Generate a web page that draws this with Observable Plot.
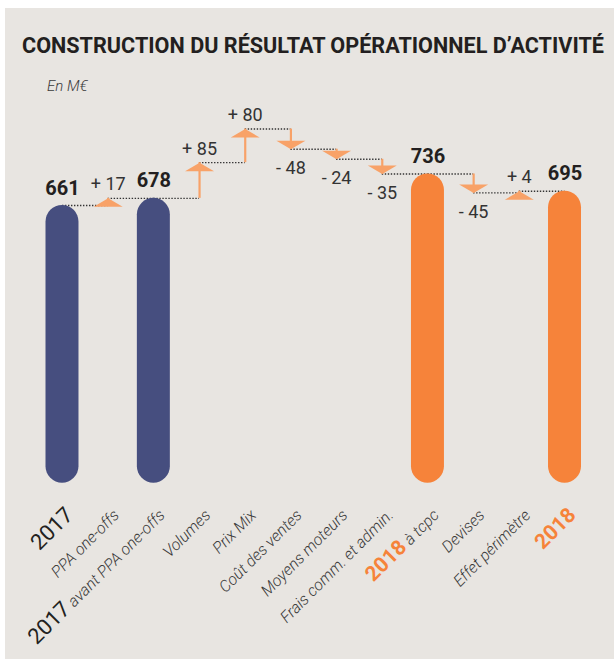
<!DOCTYPE html>
<html><head><meta charset="utf-8">
<script src="https://cdn.jsdelivr.net/npm/d3@7"></script>
<script src="https://cdn.jsdelivr.net/npm/@observablehq/plot@0.6"></script>
<style>
html,body{margin:0;padding:0;background:#fff;}
#panel{position:absolute;left:5px;top:8px;width:609px;height:651px;background:#e8e5e1;overflow:hidden;}
#head{position:relative;height:92px;}
#title{position:absolute;left:17px;top:26.5px;font-family:Roboto,sans-serif;font-weight:700;font-size:22px;line-height:22px;color:#231f20;white-space:nowrap;transform-origin:0 0;}
#sub{position:absolute;left:42px;top:71px;font-family:Roboto,sans-serif;font-style:italic;font-weight:300;font-size:15px;line-height:15px;color:#3a3a3a;}
#chart svg{display:block;overflow:visible;}
</style></head>
<body>
<div id="panel">
  <div id="head">
    <div id="title">CONSTRUCTION DU RÉSULTAT OPÉRATIONNEL D’ACTIVITÉ</div>
    <div id="sub">En M€</div>
  </div>
  <div id="chart"></div>
</div>
<script>
// ---- data ----
const categories = ["2017", "PPA one-offs", "2017 avant PPA one-offs", "Volumes", "Prix Mix",
  "Coût des ventes", "Moyens moteurs", "Frais comm. et admin.", "2018 à tcpc", "Devises",
  "Effet périmètre", "2018"];
const prefixes = ["2017", "", "2017", "", "", "", "", "", "2018", "", "", "2018"];
const kinds = ["total", "delta", "total", "delta", "delta", "delta", "delta", "delta", "total", "delta", "delta", "total"];
const values = [661, 17, 678, 85, 80, -48, -24, -35, 736, -45, 4, 695];

const navy = "#464e7f", orange = "#f6833a", arrowColor = "#f8a268", ink = "#231f20", grey = "#333333";

// title fit
const t = document.getElementById("title");
const tw = t.getBoundingClientRect().width;
t.style.transform = `scaleX(${582 / tw})`;

let level = 0;
const rows = categories.map((c, i) => {
  const v = values[i];
  let start, end;
  if (kinds[i] === "total") { start = 0; end = v; }
  else { start = level; end = level + v; }
  level = end;
  return {i, c, kind: kinds[i], v, start, end, pre: prefixes[i]};
});
const totals = rows.filter(d => d.kind === "total");
const deltas = rows.filter(d => d.kind === "delta");
const ups = deltas.filter(d => d.v > 0);
const downs = deltas.filter(d => d.v < 0);
const connectors = rows.slice(0, -1).map(d => ({x1: d.i, x2: d.i + 1, y: d.end}));

const headUp = {draw(ctx) { ctx.moveTo(0, 0); ctx.lineTo(14.5, 8.5); ctx.lineTo(-14.5, 8.5); ctx.closePath(); }};
const headDown = {draw(ctx) { ctx.moveTo(0, 0); ctx.lineTo(14.5, -8.5); ctx.lineTo(-14.5, -8.5); ctx.closePath(); }};

const fmt = v => v > 0 ? "+ " + v : "- " + (-v);

const svg = Plot.plot({
  width: 609, height: 559,
  marginLeft: 34.15, marginRight: 26.65, marginTop: 4.6, marginBottom: 176.3,
  x: {type: "linear", domain: [-0.5, 11.5], axis: null},
  y: {domain: [0, 900], axis: null},
  style: {background: "transparent", fontFamily: "Roboto, sans-serif", overflow: "visible"},
  marks: [
    Plot.ruleY(connectors, {y: "y", x1: "x1", x2: "x2", stroke: grey, strokeWidth: 1.4, strokeDasharray: "1.4 1.6"}),
    Plot.ruleX(deltas, {x: "i", y1: "start", y2: "end", stroke: arrowColor, strokeWidth: 2.2}),
    Plot.dot(ups, {x: "i", y: "end", symbol: headUp, r: 5, fill: arrowColor, stroke: "none"}),
    Plot.dot(downs, {x: "i", y: "end", symbol: headDown, r: 5, fill: arrowColor, stroke: "none"}),
    Plot.rectY(totals, {x1: d => d.i - 0.5, x2: d => d.i + 0.5, y1: 0, y2: "v", rx: 16.5,
      insetLeft: 6.35, insetRight: 6.35, fill: d => d.pre === "2018" ? orange : navy}),
    Plot.text(totals, {x: "i", y: "v", text: d => String(d.v), dy: -11, lineAnchor: "bottom",
      fontSize: 20, fontWeight: 700, fill: ink}),
    Plot.text(ups, {x: "i", y: "end", text: d => fmt(d.v), dy: -8, lineAnchor: "bottom",
      fontSize: 18, fill: grey}),
    Plot.text(downs, {x: "i", y: "end", text: d => fmt(d.v), dy: 25, lineAnchor: "bottom",
      fontSize: 18, fill: grey}),
    Plot.text(rows, {x: "i", y: 0, text: "c", rotate: -45, textAnchor: "end", lineAnchor: "bottom",
      dx: 12, dy: 33, fontSize: 16, fontStyle: "italic", fontWeight: 300, fill: "#3a3a3a"})
  ]
});
document.getElementById("chart").appendChild(svg);

// rich x labels
d3.select(svg).selectAll("text").each(function() {
  const k = categories.indexOf(this.textContent);
  if (k < 0) return;
  const pre = prefixes[k];
  if (!pre) return;
  const rest = categories[k].slice(pre.length).trim();
  const el = d3.select(this);
  el.text(null);
  const is2018 = pre === "2018";
  el.append("tspan")
    .attr("font-size", is2018 ? 21 : 22)
    .attr("font-style", "normal")
    .attr("font-weight", is2018 ? 700 : 400)
    .attr("fill", is2018 ? orange : ink)
    .text(pre);
  if (rest) el.append("tspan").text(" " + rest);
});
</script>
</body></html>
